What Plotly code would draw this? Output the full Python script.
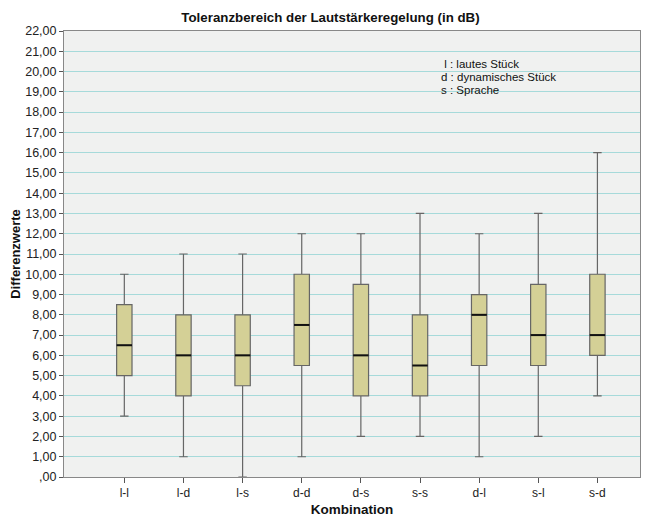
import plotly.graph_objects as go

categories = ["l-l", "l-d", "l-s", "d-d", "d-s", "s-s", "d-l", "s-l", "s-d"]
lower = [3, 1, 0, 1, 2, 2, 1, 2, 4]
q1 = [5, 4, 4.5, 5.5, 4, 4, 5.5, 5.5, 6]
median = [6.5, 6, 6, 7.5, 6, 5.5, 8, 7, 7]
q3 = [8.5, 8, 8, 10, 9.5, 8, 9, 9.5, 10]
upper = [10, 11, 11, 12, 12, 13, 12, 13, 16]
ytick_vals = list(range(0, 23))
ytick_text = [",00" if v == 0 else f"{v},00" for v in ytick_vals]
legend_lines = [" l : lautes Stück", "d : dynamisches Stück", "s : Sprache"]

xs = list(range(len(categories)))
bw = 0.26

fig = go.Figure()
fig.add_trace(go.Box(
    x=xs, q1=q1, median=median, q3=q3, lowerfence=lower, upperfence=upper,
    width=bw, whiskerwidth=0.55,
    fillcolor="#d4d096", line=dict(color="#666666", width=1.2),
    showlegend=False, hoverinfo="skip",
))
for x, m in zip(xs, median):
    fig.add_shape(type="line", x0=x - bw / 2, x1=x + bw / 2, y0=m, y1=m,
                  line=dict(color="#111111", width=2), layer="above")

for i, line in enumerate(legend_lines):
    fig.add_annotation(
        xref="paper", yref="paper", x=0.651, y=0.926 - i * 0.0291,
        xanchor="left", yanchor="middle", align="left", showarrow=False,
        text=line, font=dict(size=11.5, color="#111111", family="Liberation Sans, Arial"),
    )

# page body has an 8px default margin: size/margins compensate so the plot
# lands on the same pixels as the reference
fig.update_layout(
    width=645, height=509,
    margin=dict(l=56, r=13, t=23, b=40, autoexpand=False),
    paper_bgcolor="white", plot_bgcolor="#f0f1f0",
    font=dict(family="Liberation Sans, Arial", size=12, color="#222222"),
    title=dict(text="<b>Toleranzbereich der Lautstärkeregelung (in dB)</b>",
               x=0.5, xanchor="center", y=0.982, yanchor="middle",
               font=dict(size=13.3, color="#111111")),
)
fig.update_xaxes(
    range=[-1.02, 8.72], tickmode="array", tickvals=xs, ticktext=categories,
    showgrid=False, zeroline=False, showline=True, linecolor="#888888", mirror=True,
    ticks="outside", ticklen=5, tickcolor="#555555", automargin=False,
    title=dict(text="<b>Kombination</b>", font=dict(size=13.5, color="#111111"), standoff=9),
    tickfont=dict(size=12),
)
fig.update_yaxes(
    range=[0, 22], tickmode="array", tickvals=ytick_vals, ticktext=ytick_text,
    showgrid=True, gridcolor="#a6dada", gridwidth=1,
    zeroline=False, showline=True, linecolor="#888888", mirror=True,
    ticks="outside", ticklen=4, tickcolor="#555555", automargin=False,
    title=dict(text="<b>Differenzwerte</b>", font=dict(size=13, color="#111111"), standoff=6),
    tickfont=dict(size=12.5),
)
fig.write_html("out.html")
